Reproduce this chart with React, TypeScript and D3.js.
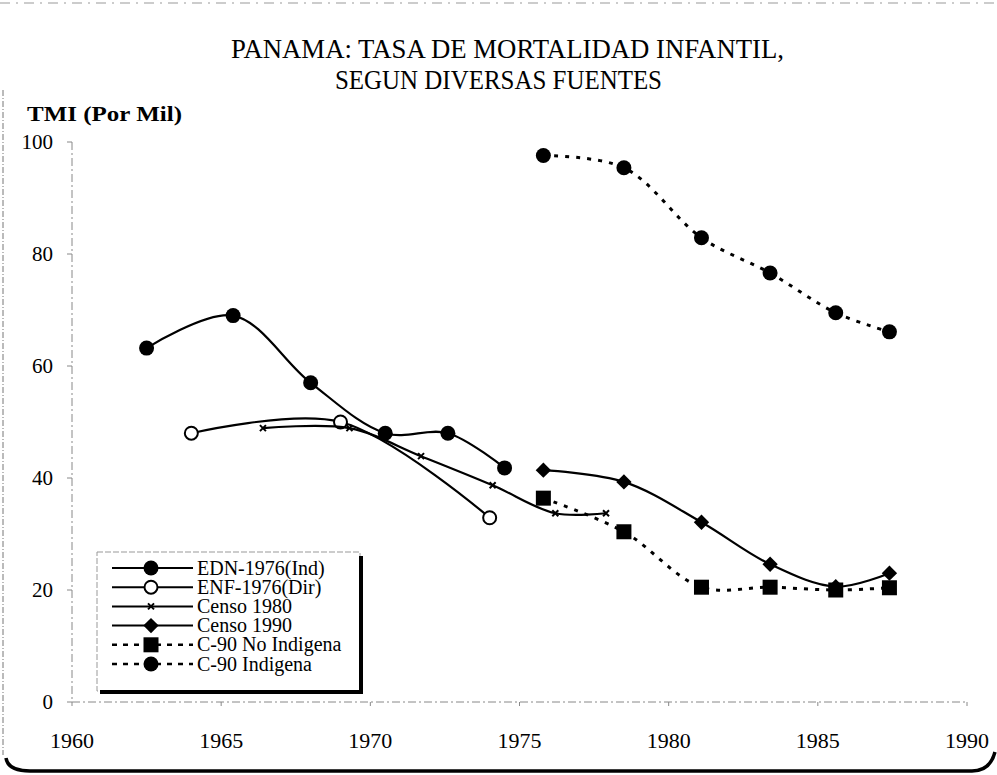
import React, { useEffect, useRef } from "react";
import * as d3 from "d3";

// years / values
const ednYears = [1962.5, 1965.4, 1968.0, 1970.5, 1972.6, 1974.5];
const ednValues = [63.2, 69.0, 57.0, 48.0, 48.0, 41.8];

const enfYears = [1964.0, 1969.0, 1974.0];
const enfValues = [48.0, 50.0, 32.9];

const c80Years = [1966.4, 1969.3, 1971.7, 1974.1, 1976.2, 1977.9];
const c80Values = [48.9, 48.9, 43.9, 38.7, 33.7, 33.7];

const c90Years = [1975.8, 1978.5, 1981.1, 1983.4, 1985.6, 1987.4];
const c90Values = [41.4, 39.3, 32.1, 24.6, 20.6, 23.0];
const noIndValues = [36.4, 30.4, 20.5, 20.5, 20.0, 20.4];
const indValues = [97.6, 95.4, 82.9, 76.6, 69.5, 66.1];

const seriesNames = ["EDN-1976(Ind)", "ENF-1976(Dir)", "Censo 1980", "Censo 1990", "C-90 No Indigena", "C-90 Indigena"];
const xTicks = [1960, 1965, 1970, 1975, 1980, 1985, 1990];
const yTicks = [0, 20, 40, 60, 80, 100];

const W = 997, H = 775;
const FONT = "Liberation Serif";

export default function App() {
  const ref = useRef<SVGSVGElement>(null);

  useEffect(() => {
    const svg = d3.select(ref.current);
    svg.selectAll("*").remove();

    const x = d3.scaleLinear().domain([1960, 1990]).range([72, 967]);
    const y = d3.scaleLinear().domain([0, 100]).range([702, 142]);

    const series = [
      { name: seriesNames[0], xs: ednYears, vs: ednValues, marker: "dot", dash: null },
      { name: seriesNames[1], xs: enfYears, vs: enfValues, marker: "open", dash: null },
      { name: seriesNames[2], xs: c80Years, vs: c80Values, marker: "x", dash: null },
      { name: seriesNames[3], xs: c90Years, vs: c90Values, marker: "diamond", dash: null },
      { name: seriesNames[4], xs: c90Years, vs: noIndValues, marker: "square", dash: "4,7" },
      { name: seriesNames[5], xs: c90Years, vs: indValues, marker: "dot", dash: "4,7" },
    ];

    // frame of the scanned page
    svg.append("line").attr("x1", 3).attr("x2", 3).attr("y1", 90).attr("y2", 755)
      .attr("stroke", "#777").attr("stroke-width", 1).attr("stroke-dasharray", "6,2,1,2");
    svg.append("line").attr("x1", 0).attr("x2", W).attr("y1", 3).attr("y2", 3)
      .attr("stroke", "#999").attr("stroke-width", 1).attr("stroke-dasharray", "10,6,2,6");
    svg.append("path")
      .attr("d", "M6,758 Q8,771 30,771 L972,771 Q990,771 995,752")
      .attr("fill", "none").attr("stroke", "#000").attr("stroke-width", 3.5);

    // title
    svg.append("text").attr("x", 231).attr("y", 58)
      .attr("font-family", FONT).attr("font-size", 28)
      .attr("textLength", 553).attr("lengthAdjust", "spacingAndGlyphs")
      .text("PANAMA: TASA DE MORTALIDAD INFANTIL,");
    svg.append("text").attr("x", 335).attr("y", 89)
      .attr("font-family", FONT).attr("font-size", 28)
      .attr("textLength", 327).attr("lengthAdjust", "spacingAndGlyphs")
      .text("SEGUN DIVERSAS FUENTES");

    svg.append("text").attr("x", 27).attr("y", 121)
      .attr("font-family", FONT).attr("font-size", 22).attr("font-weight", "bold")
      .attr("textLength", 155).attr("lengthAdjust", "spacingAndGlyphs")
      .text("TMI (Por Mil)");

    // axes
    const axisColor = "#888";
    svg.append("line").attr("x1", x(1960)).attr("x2", x(1960)).attr("y1", y(100)).attr("y2", y(0))
      .attr("stroke", axisColor).attr("stroke-dasharray", "8,3,2,3");
    svg.append("line").attr("x1", x(1960)).attr("x2", x(1990)).attr("y1", y(0)).attr("y2", y(0))
      .attr("stroke", axisColor).attr("stroke-dasharray", "8,3,2,3");

    svg.selectAll(".ytick").data(yTicks).enter().append("line")
      .attr("x1", x(1960) - 5).attr("x2", x(1960)).attr("y1", d => y(d)).attr("y2", d => y(d))
      .attr("stroke", axisColor);
    svg.selectAll(".ylab").data(yTicks).enter().append("text")
      .attr("x", 53).attr("y", d => y(d) + 7).attr("text-anchor", "end")
      .attr("font-family", FONT).attr("font-size", 21).text(d => d);

    svg.selectAll(".xtick").data(xTicks).enter().append("line")
      .attr("x1", d => x(d)).attr("x2", d => x(d)).attr("y1", y(0)).attr("y2", y(0) + 4)
      .attr("stroke", axisColor);
    svg.selectAll(".xlab").data(xTicks).enter().append("text")
      .attr("x", d => x(d)).attr("y", 748).attr("text-anchor", "middle")
      .attr("font-family", FONT).attr("font-size", 22).text(d => d);

    const drawMarker = (g: any, kind: string, cx: number, cy: number) => {
      if (kind === "dot") {
        g.append("circle").attr("cx", cx).attr("cy", cy).attr("r", 7.5).attr("fill", "#000");
      } else if (kind === "open") {
        g.append("circle").attr("cx", cx).attr("cy", cy).attr("r", 6.5)
          .attr("fill", "#fff").attr("stroke", "#000").attr("stroke-width", 2);
      } else if (kind === "x") {
        g.append("path").attr("d", `M${cx - 3},${cy - 3}L${cx + 3},${cy + 3}M${cx - 3},${cy + 3}L${cx + 3},${cy - 3}`)
          .attr("stroke", "#000").attr("stroke-width", 2);
      } else if (kind === "diamond") {
        g.append("path").attr("d", d3.symbol(d3.symbolDiamond2, 150)())
          .attr("transform", `translate(${cx},${cy})`).attr("fill", "#000");
      } else if (kind === "square") {
        g.append("rect").attr("x", cx - 7.5).attr("y", cy - 7.5).attr("width", 15).attr("height", 15).attr("fill", "#000");
      }
    };

    const line = d3.line<[number, number]>()
      .x(d => x(d[0])).y(d => y(d[1]))
      .curve(d3.curveCatmullRom.alpha(0.5));

    series.forEach(s => {
      const pts: [number, number][] = s.xs.map((yr, i) => [yr, s.vs[i]]);
      const g = svg.append("g");
      g.append("path").attr("d", line(pts))
        .attr("fill", "none").attr("stroke", "#000").attr("stroke-width", s.dash ? 3 : 2.2)
        .attr("stroke-dasharray", s.dash);
      pts.forEach(p => drawMarker(g, s.marker, x(p[0]), y(p[1])));
    });

    // legend
    const lg = svg.append("g");
    lg.append("rect").attr("x", 97).attr("y", 552).attr("width", 263).attr("height", 139)
      .attr("fill", "#fff").attr("stroke", "#999").attr("stroke-dasharray", "6,2");
    lg.append("path").attr("d", "M100,692 L361,692 L361,556")
      .attr("fill", "none").attr("stroke", "#000").attr("stroke-width", 4);
    series.forEach((s, i) => {
      const ly = 568 + i * 19.2;
      lg.append("line").attr("x1", 112).attr("x2", 193).attr("y1", ly).attr("y2", ly)
        .attr("stroke", "#000").attr("stroke-width", s.dash ? 2.5 : 2)
        .attr("stroke-dasharray", s.dash ? "5,6" : null);
      drawMarker(lg, s.marker, 151, ly);
      lg.append("text").attr("x", 197).attr("y", ly + 6.5)
        .attr("font-family", FONT).attr("font-size", 20).text(s.name);
    });
  }, []);

  return (
    <svg ref={ref} width={W} height={H}
      style={{ position: "absolute", left: 0, top: 0, background: "#fff" }} />
  );
}
